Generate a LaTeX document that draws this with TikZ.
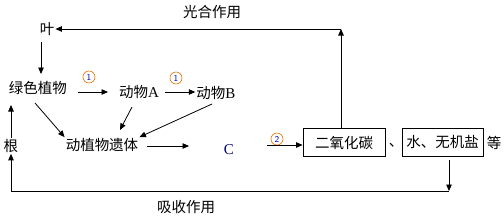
\documentclass[tikz,border=0pt]{standalone}
\usepackage{fontspec}
\setmainfont{Liberation Serif}
\newfontfamily\cjk{Noto Sans CJK SC}
\usetikzlibrary{arrows.meta}
\begin{document}
\begin{tikzpicture}[x=1pt,y=-1pt,
  lbl/.style={font=\cjk\fontsize{14.5}{15}\selectfont, inner sep=1pt},
  boxn/.style={lbl, draw, line width=0.8pt, minimum height=28pt, inner sep=3pt},
  arr/.style={line width=0.8pt, -{Triangle[length=6.5pt,width=5.5pt]}},
  ln/.style={line width=0.8pt},
  circnum/.style={circle, draw=orange!90!black, line width=0.6pt, inner sep=0pt, minimum size=12pt,
     font=\sffamily\fontsize{9}{9}\selectfont, text=blue!70!black}]
\useasboundingbox (0,0) rectangle (504,217);
% nodes
\node[lbl] (ye) at (47,29) {叶};
\node[lbl] (lv) at (38,88) {绿色植物};
\node[lbl] (A) at (139,92) {动物\fontsize{15}{15}\rmfamily A};
\node[lbl] (B) at (216,93) {动物\fontsize{15}{15}\rmfamily B};
\node[lbl] (gen) at (11,146) {根};
\node[lbl] (yiti) at (102,145) {动植物遗体};
\node[font=\fontsize{15}{15}\selectfont, text=blue!50!black, inner sep=1pt] (C) at (229,150) {C};
\node[boxn, minimum width=82pt] (co2) at (344,142.5) {二氧化碳};
\node[lbl] (dun) at (396,145) {、};
\node[boxn, minimum width=81pt, inner sep=1pt] (water) at (442.5,142) {水、无机盐};
\node[lbl] (deng) at (494,143) {等};
\node[lbl] (gh) at (212,12) {光合作用};
\node[lbl] (xs) at (186,207) {吸收作用};
% circled numbers
\node[circnum] (n1) at (89,77) {1};
\node[circnum] (n2) at (176,78) {1};
\node[circnum] (n3) at (277,139) {2};
% corners
\coordinate (tl) at (341,29);
\coordinate (br) at (449,191);
\coordinate (bl) at (11,191);
% connectors
\draw[arr] (tl |- co2.north) -- (tl);
\draw[arr] (tl) -- (ye.east);
\draw[arr] (41,42) -- (41,74);
\draw[arr] (78,92) -- (108,92);
\draw[arr] (165,92) -- (B.west |- 0,92);
\draw[arr] (35,103) -- (yiti.north west);
\draw[arr] (132,107) -- (120,130);
\draw[arr] (212,104) -- (yiti.north east);
\draw[arr] (147,146) -- (189,146);
\draw[arr] (267,145) -- (co2.west |- 0,145);
\draw[arr] (br |- water.south) ++(0,4) -- (br);
\draw[ln] (br) -- (bl);
\draw[arr] (bl) -- (gen.south);
\draw[arr] (gen.north) -- (11,105);
\end{tikzpicture}
\end{document}
